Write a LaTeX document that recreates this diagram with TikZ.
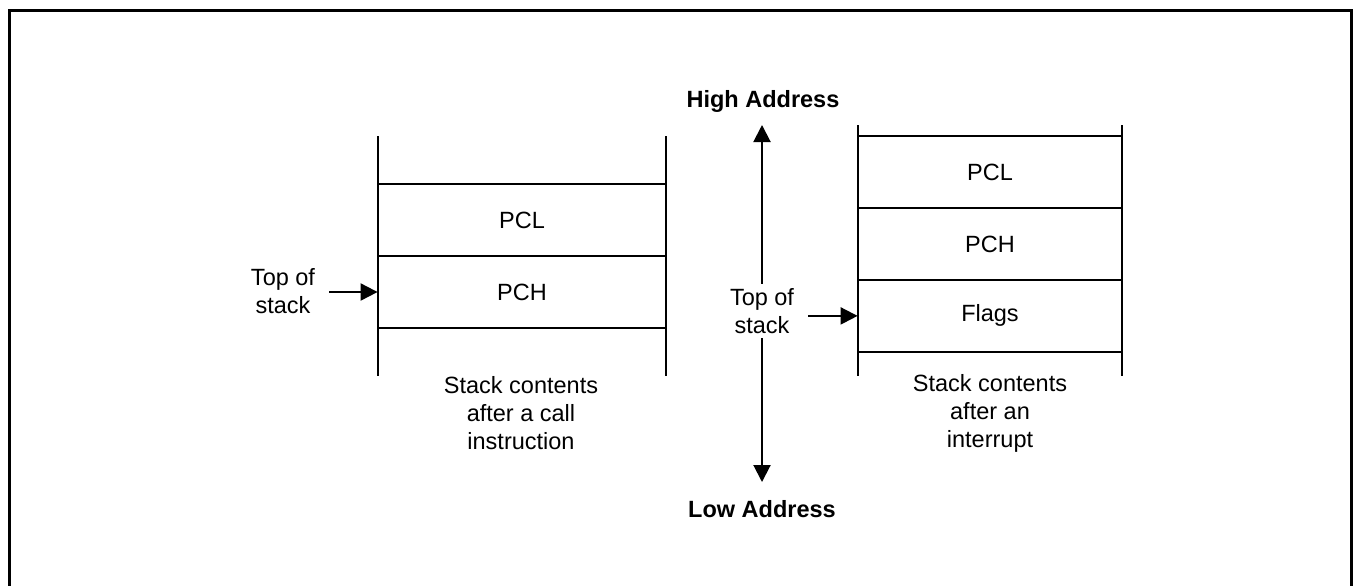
\documentclass[tikz,border=0pt]{standalone}
\usepackage{fontspec}
\setmainfont{Liberation Sans}
\usetikzlibrary{arrows.meta}
\begin{document}
\begin{tikzpicture}[x=0.5pt,y=-0.5pt,
  lbl/.style={font=\fontsize{11.75}{14}\selectfont, align=center, inner sep=0pt},
  boldlbl/.style={font=\fontsize{11.75}{14}\selectfont\bfseries, align=center, inner sep=0pt},
  cell/.style={font=\fontsize{11.75}{14}\selectfont, inner sep=0pt, minimum width=144pt, minimum height=35.8pt},
  cellr/.style={cell, minimum width=132pt},
  stk/.style={line width=1pt},
  arr/.style={line width=1pt, -{Triangle[length=8.5pt,width=8.5pt]}},
]
\useasboundingbox (0,0) rectangle (1354,585);
\clip (0,0) rectangle (1354,585);
% frame
\draw[line width=1.5pt] (9.5,640) -- (9.5,10.5) -- (1351.5,10.5) -- (1351.5,640);

% left stack
\node[cell] (pcl1) at (522,220) {PCL};
\node[cell] (pch1) at (522,292) {PCH};
\draw[stk] (378,136) -- (378,376);
\draw[stk] (666,136) -- (666,376);
\draw[stk] (pcl1.north west) -- (pcl1.north east);
\draw[stk] (pch1.north west) -- (pch1.north east);
\draw[stk] (pch1.south west) -- (pch1.south east);
\node[lbl] (cap1) at (521,413) {Stack contents\\after a call\\instruction};
\node[lbl] (tos1) at (283,291) {Top of\\stack};
\draw[arr, shorten <=7pt] (tos1.east |- pch1.west) -- (pch1.west);

% right stack
\node[cellr] (pcl2) at (990,172.5) {PCL};
\node[cellr] (pch2) at (990,244.2) {PCH};
\node[cellr] (flg2) at (990,315.9) {Flags};
\draw[stk] (858,125) -- (858,376);
\draw[stk] (1122,125) -- (1122,376);
\draw[stk] (pcl2.north west) -- (pcl2.north east);
\draw[stk] (pch2.north west) -- (pch2.north east);
\draw[stk] (flg2.north west) -- (flg2.north east);
\draw[stk] (flg2.south west) -- (flg2.south east);
\node[lbl] (cap2) at (990,413) {Stack contents\\after an\\interrupt};

% centre: address direction
\node[lbl] (tos2) at (762,311) {Top of\\stack};
\draw[arr, shorten <=7pt] (tos2.east |- flg2.west) -- (flg2.west);
\node[boldlbl] (high) at (763,101) {High Address};
\node[boldlbl] (low) at (762,509) {Low Address};
\coordinate (hitip) at (762,125);
\coordinate (lotip) at (762,482);
\draw[arr, shorten <=2pt] (tos2.north) -- (hitip);
\draw[arr, shorten <=2pt] (tos2.south) -- (lotip);
\end{tikzpicture}
\end{document}
